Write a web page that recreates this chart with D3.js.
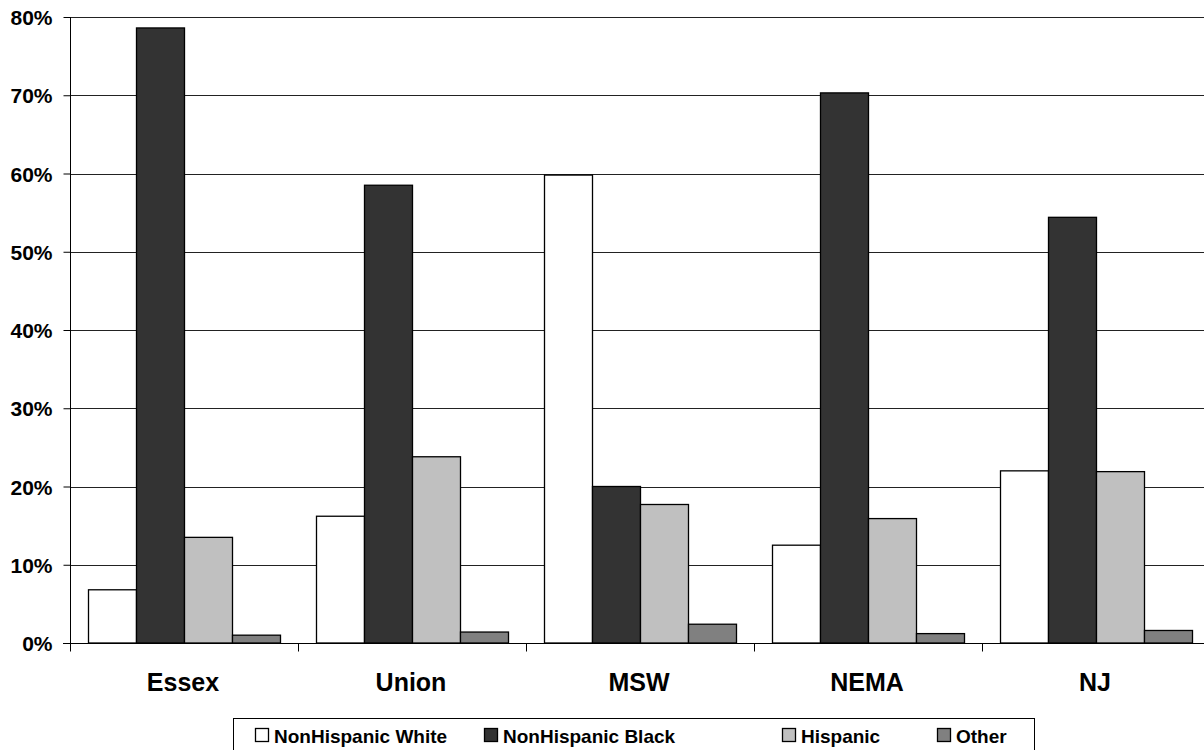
<!DOCTYPE html>
<html>
<head>
<meta charset="utf-8">
<script src="https://cdn.jsdelivr.net/npm/d3@7"></script>
<style>
  html, body { margin: 0; padding: 0; background: #fff; overflow: hidden; }
  svg { display: block; font-family: Arial, "Liberation Sans", sans-serif; }
</style>
</head>
<body>
<svg id="chart" width="1204" height="750"></svg>
<script>
// Population share by race/ethnicity, per area
const categories = ["Essex", "Union", "MSW", "NEMA", "NJ"];
const seriesNames = ["NonHispanic White", "NonHispanic Black", "Hispanic", "Other"];
const nonHispanicWhite = [6.8, 16.2, 59.8, 12.5, 22.0];
const nonHispanicBlack = [78.6, 58.5, 20.0, 70.3, 54.4];
const hispanic = [13.5, 23.8, 17.7, 15.9, 21.9];
const other = [1.0, 1.4, 2.4, 1.2, 1.6];
const yTicks = [0, 10, 20, 30, 40, 50, 60, 70, 80];
const colors = ["#ffffff", "#333333", "#c0c0c0", "#808080"];

const seriesValues = [nonHispanicWhite, nonHispanicBlack, hispanic, other];

const svg = d3.select("#chart");
const plotLeft = 70, plotRight = 1210, plotTop = 17, plotBottom = 643;

const x0 = d3.scaleBand().domain(categories).range([plotLeft, plotRight]).paddingInner(0).paddingOuter(0);
const x1 = d3.scaleBand().domain(seriesNames).range([0, x0.bandwidth()]).paddingInner(0).paddingOuter(0.375);
const y = d3.scaleLinear().domain([0, 80]).range([plotBottom, plotTop]);

// Horizontal gridlines
svg.append("g")
  .selectAll("line")
  .data(yTicks.filter(t => t > 0))
  .join("line")
  .attr("x1", plotLeft).attr("x2", plotRight)
  .attr("y1", d => Math.round(y(d)) + 0.5).attr("y2", d => Math.round(y(d)) + 0.5)
  .attr("stroke", "#222").attr("stroke-width", 1);

// Bars
const groups = svg.append("g")
  .selectAll("g")
  .data(categories)
  .join("g")
  .attr("transform", d => `translate(${x0(d)},0)`);

groups.selectAll("rect")
  .data((c, i) => seriesNames.map((s, j) => ({ s, v: seriesValues[j][i], j })))
  .join("rect")
  .attr("x", d => x1(d.s) + 0.5)
  .attr("width", x1.bandwidth())
  .attr("y", d => y(d.v))
  .attr("height", d => y(0) - y(d.v))
  .attr("fill", d => colors[d.j])
  .attr("stroke", "#000")
  .attr("stroke-width", 1.3);

// Y axis
const yAxis = d3.axisLeft(y)
  .tickValues(yTicks)
  .tickFormat(d => d + "%")
  .tickSize(7)
  .tickPadding(11);
const gy = svg.append("g")
  .attr("transform", `translate(${plotLeft + 0.5},0)`)
  .call(yAxis);
gy.select(".domain").attr("stroke", "#000").attr("d", `M0,${plotTop}V${plotBottom}`);
gy.selectAll(".tick line").attr("stroke", "#000");
gy.selectAll(".tick text")
  .attr("fill", "#000")
  .attr("dy", "0.36em")
  .style("font-size", "21px")
  .style("font-weight", "bold");

// X axis with ticks on group boundaries
const gx = svg.append("g")
  .attr("transform", `translate(0,${plotBottom + 0.5})`);
gx.append("line")
  .attr("x1", plotLeft - 7).attr("x2", plotRight)
  .attr("stroke", "#000");
gx.selectAll("line.tk")
  .data(categories)
  .join("line")
  .attr("class", "tk")
  .attr("x1", d => Math.round(x0(d)) + 0.5).attr("x2", d => Math.round(x0(d)) + 0.5)
  .attr("y1", 0).attr("y2", 8)
  .attr("stroke", "#000");
gx.selectAll("text")
  .data(categories)
  .join("text")
  .attr("x", d => x0(d) + x0.bandwidth() / 2 - 1)
  .attr("y", 47)
  .attr("text-anchor", "middle")
  .style("font-size", "25px")
  .style("font-weight", "bold")
  .text(d => d);

// Legend
const legend = svg.append("g");
legend.append("rect")
  .attr("x", 233.5).attr("y", 718.5)
  .attr("width", 801).attr("height", 40)
  .attr("fill", "#fff").attr("stroke", "#000").attr("stroke-width", 1);
const legendX = [255, 484, 782, 937];
const items = legend.selectAll("g.item")
  .data(seriesNames)
  .join("g")
  .attr("class", "item")
  .attr("transform", (d, i) => `translate(${legendX[i]},0)`);
items.append("rect")
  .attr("x", 0.5).attr("y", 728.5)
  .attr("width", 13).attr("height", 13)
  .attr("fill", (d, i) => colors[i])
  .attr("stroke", "#000").attr("stroke-width", 1.3);
items.append("text")
  .attr("x", 19).attr("y", 743)
  .style("font-size", "19px")
  .style("font-weight", "bold")
  .text(d => d);
</script>
</body>
</html>
